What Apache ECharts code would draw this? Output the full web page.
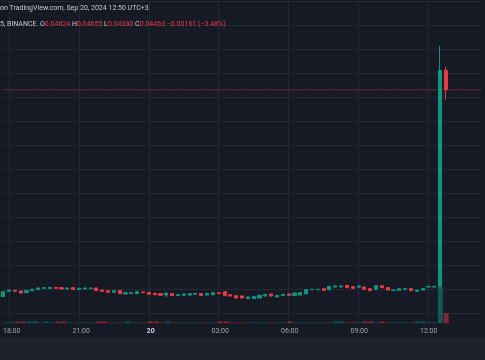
<!DOCTYPE html>
<html>
<head>
<meta charset="utf-8">
<script src="https://cdn.jsdelivr.net/npm/echarts@6/dist/echarts.min.js"></script>
<style>
html,body{margin:0;padding:0;background:#161a25;}
#c{width:485px;height:360px;}
</style>
</head>
<body>
<div id="c"></div>
<script>
// 15-minute candles, 17:45 (Sep 19) to 12:45 (Sep 20), plus empty future slots
const categories = [
'17:45','18:00','18:15','18:30','18:45','19:00','19:15','19:30','19:45','20:00','20:15','20:30','20:45',
'21:00','21:15','21:30','21:45','22:00','22:15','22:30','22:45','23:00','23:15','23:30','23:45',
'00:00','00:15','00:30','00:45','01:00','01:15','01:30','01:45','02:00','02:15','02:30','02:45',
'03:00','03:15','03:30','03:45','04:00','04:15','04:30','04:45','05:00','05:15','05:30','05:45',
'06:00','06:15','06:30','06:45','07:00','07:15','07:30','07:45','08:00','08:15','08:30','08:45',
'09:00','09:15','09:30','09:45','10:00','10:15','10:30','10:45','11:00','11:15','11:30','11:45',
'12:00','12:15','12:30','12:45','13:00','13:15','13:30','13:45','14:00','14:15'
];
const opens = [
0.02739,0.02783,0.02791,0.02786,0.02772,0.02789,0.02797,0.02806,0.02806,0.02816,0.02814,0.02803,0.02814,
0.02797,0.02803,0.02806,0.02811,0.02794,0.02789,0.02775,0.02791,0.02761,0.02764,0.02764,0.02778,
0.02775,0.02766,0.02764,0.02752,0.02764,0.02747,0.02750,0.02752,0.02758,0.02764,0.02752,0.02755,
0.02772,0.02780,0.02755,0.02747,0.02745,0.02722,0.02722,0.02728,0.02744,0.02761,0.02736,0.02747,
0.02761,0.02747,0.02752,0.02761,0.02797,0.02797,0.02805,0.02797,0.02819,0.02820,0.02833,0.02822,
0.02817,0.02819,0.02805,0.02800,0.02830,0.02814,0.02789,0.02791,0.02797,0.02805,0.02783,0.02794,
0.02819,0.02819,0.02825,0.04624
];
const closes = [
0.02780,0.02794,0.02783,0.02769,0.02791,0.02800,0.02811,0.02814,0.02816,0.02808,0.02803,0.02811,0.02797,
0.02808,0.02811,0.02811,0.02789,0.02783,0.02775,0.02789,0.02764,0.02772,0.02772,0.02780,0.02772,
0.02758,0.02755,0.02750,0.02769,0.02747,0.02755,0.02761,0.02764,0.02766,0.02747,0.02764,0.02772,
0.02764,0.02747,0.02744,0.02727,0.02728,0.02736,0.02739,0.02750,0.02758,0.02744,0.02750,0.02758,
0.02750,0.02769,0.02772,0.02797,0.02800,0.02800,0.02791,0.02825,0.02828,0.02828,0.02814,0.02808,
0.02828,0.02800,0.02789,0.02830,0.02814,0.02794,0.02794,0.02805,0.02805,0.02789,0.02794,0.02808,
0.02825,0.02825,0.04624,0.04463
];
const lows = [
0.02736,0.02780,0.02780,0.02766,0.02769,0.02786,0.02794,0.02803,0.02803,0.02805,0.02800,0.02800,0.02794,
0.02794,0.02800,0.02803,0.02786,0.02780,0.02772,0.02772,0.02761,0.02758,0.02761,0.02761,0.02769,
0.02755,0.02752,0.02747,0.02733,0.02744,0.02744,0.02747,0.02750,0.02755,0.02744,0.02750,0.02752,
0.02761,0.02744,0.02738,0.02724,0.02725,0.02719,0.02719,0.02725,0.02741,0.02741,0.02733,0.02744,
0.02747,0.02744,0.02749,0.02758,0.02794,0.02794,0.02788,0.02794,0.02816,0.02817,0.02811,0.02805,
0.02814,0.02797,0.02786,0.02797,0.02811,0.02791,0.02786,0.02788,0.02794,0.02786,0.02780,0.02791,
0.02816,0.02816,0.02819,0.04380
];
const highs = [
0.02783,0.02797,0.02794,0.02789,0.02794,0.02803,0.02814,0.02817,0.02819,0.02819,0.02817,0.02814,0.02817,
0.02811,0.02814,0.02814,0.02814,0.02797,0.02792,0.02792,0.02794,0.02775,0.02775,0.02783,0.02781,
0.02778,0.02769,0.02767,0.02772,0.02767,0.02758,0.02764,0.02767,0.02769,0.02767,0.02767,0.02775,
0.02775,0.02783,0.02758,0.02750,0.02748,0.02739,0.02742,0.02753,0.02761,0.02764,0.02753,0.02761,
0.02764,0.02772,0.02775,0.02800,0.02803,0.02803,0.02808,0.02828,0.02831,0.02831,0.02836,0.02825,
0.02831,0.02822,0.02808,0.02833,0.02833,0.02817,0.02797,0.02808,0.02808,0.02808,0.02797,0.02811,
0.02828,0.02828,0.04829,0.04655
];
const volumes = [
0.8,0.8,1.8,1.8,1.8,1.8,0.8,1.8,0.8,1.8,1.8,0.8,0.8,
0.8,0.8,0.8,1.8,1.8,0.8,0.8,0.8,1.8,0.8,0.8,0.8,
1.8,1.8,0.8,1.8,0.8,0.8,0.8,0.8,0.8,0.8,0.8,0.8,
1.8,1.8,0.8,0.8,0.8,0.8,0.8,0.8,0.8,0.8,0.8,0.8,
1.8,0.8,0.8,0.8,0.8,0.8,0.8,0.8,1.8,1.8,0.8,0.8,
0.8,1.8,1.8,0.8,1.8,0.8,0.8,0.8,0.8,0.8,1.8,1.8,
0.8,0.8,36.5,10
];
const tickCats = ['18:00','21:00','00:00','03:00','06:00','09:00','12:00'];
const tickLabels = ['18:00','21:00','20','03:00','06:00','09:00','12:00'];
const headerLine1 = 'on TradingView.com, Sep 20, 2024 12:50 UTC+3';
const headerPrefix = '5, BINANCE';

const UP = '#089981', DOWN = '#f23645';
const GRIDC = '#242834';
const BG = '#161a25';
const FONT = "Roboto, 'Liberation Sans', sans-serif";

const candleData = opens.map((o, i) => {
  const c = closes[i] >= o ? UP : DOWN;
  return {
    value: [o, closes[i], lows[i], highs[i]],
    itemStyle: { color: c, color0: c, borderColor: c, borderColor0: c, borderColorDoji: c }
  };
});
const volData = volumes.map((v, i) => ({
  value: v,
  itemStyle: { color: closes[i] >= opens[i] ? 'rgba(8,153,129,0.5)' : 'rgba(242,54,69,0.5)' }
}));
const last = opens.length - 1;
const lastClose = closes[last];
const chg = closes[last] - opens[last];
const pct = chg / opens[last] * 100;
const fmt = v => (v < 0 ? '\u2212' : '') + Math.abs(v).toFixed(5);
const priceLineData = categories.map(() => lastClose);

const gridLeft = 3.2, gridRight = 4.1;
const chart = echarts.init(document.getElementById('c'), null, { renderer: 'canvas' });
chart.setOption({
  animation: false,
  backgroundColor: BG,
  grid: [
    { left: gridLeft, right: gridRight, top: 1.3, height: 336 },
    { left: gridLeft, right: gridRight, bottom: 36.7, height: 100 }
  ],
  xAxis: [
    {
      type: 'category', gridIndex: 0, data: categories, boundaryGap: false,
      axisLine: { show: false }, axisTick: { show: false }, axisLabel: { show: false },
      splitLine: {
        show: true,
        interval: (idx, val) => tickCats.includes(val),
        lineStyle: { color: GRIDC, width: 1 }
      }
    },
    {
      type: 'category', gridIndex: 1, data: categories, boundaryGap: false, z: 300,
      axisLine: { show: false }, axisTick: { show: false }, splitLine: { show: false },
      axisLabel: {
        show: true,
        interval: (idx, val) => tickCats.includes(val),
        margin: 4.5,
        fontSize: 7,
        fontFamily: FONT,
        color: '#a3a6af',
        formatter: val => {
          const t = tickLabels[tickCats.indexOf(val)];
          return t === '20' ? '{b|' + t + '}' : t;
        },
        rich: { b: { fontWeight: 'bold', color: '#d1d4dc', fontSize: 7, fontFamily: FONT } }
      }
    }
  ],
  yAxis: [
    {
      type: 'value', gridIndex: 0, min: 0.024, max: 0.052, interval: 0.002,
      axisLine: { show: false }, axisTick: { show: false }, axisLabel: { show: false },
      splitLine: { show: true, lineStyle: { color: GRIDC, width: 1 } }
    },
    {
      type: 'value', gridIndex: 1, min: 0, max: 100,
      axisLine: { show: false }, axisTick: { show: false }, axisLabel: { show: false },
      splitLine: { show: false }
    }
  ],
  series: [
    {
      type: 'line', xAxisIndex: 0, yAxisIndex: 0, data: priceLineData, silent: true, z: 2,
      symbol: 'none', lineStyle: { color: 'rgba(242,54,69,0.38)', width: 1 }
    },
    {
      type: 'bar', xAxisIndex: 1, yAxisIndex: 1, data: volData, barWidth: 5, z: 3,
      silent: true
    },
    {
      type: 'candlestick', xAxisIndex: 0, yAxisIndex: 0, data: candleData,
      barWidth: 3.6, clip: false, z: 4, silent: true,
      itemStyle: { color: UP, color0: DOWN, borderColor: UP, borderColor0: DOWN, borderWidth: 1 }
    }
  ],
  graphic: [
    {
      type: 'rect', z: 200, silent: true,
      shape: { x: 0, y: 323.6, width: 485, height: 14.1 },
      style: { fill: BG }
    },
    {
      type: 'rect', z: 200, silent: true,
      shape: { x: 0, y: 337.7, width: 485, height: 23 },
      style: { fill: '#1e222d' }
    },
    {
      type: 'text', z: 200, x: 0, y: 8.5, silent: true,
      style: {
        text: headerLine1, font: '7px ' + FONT, fill: '#c8cbd3',
        verticalAlign: 'middle', textVerticalAlign: 'middle'
      }
    },
    {
      type: 'text', z: 200, x: 0, y: 24.3, silent: true,
      style: {
        text: '{g|' + headerPrefix + '  }{l|O}{r|' + fmt(opens[last]) + ' }{l|H}{r|' + fmt(highs[last]) +
              ' }{l|L}{r|' + fmt(lows[last]) + ' }{l|C}{r|' + fmt(closes[last]) + ' ' + fmt(chg) +
              ' (' + (pct < 0 ? '\u2212' : '') + Math.abs(pct).toFixed(2) + '%)}',
        font: '7px ' + FONT,
        verticalAlign: 'middle', textVerticalAlign: 'middle',
        rich: {
          g: { fill: '#c8cbd3', font: '7px ' + FONT },
          l: { fill: '#c8cbd3', font: '7px ' + FONT },
          r: { fill: '#f23645', font: '7px ' + FONT }
        }
      }
    }
  ]
});
</script>
</body>
</html>
